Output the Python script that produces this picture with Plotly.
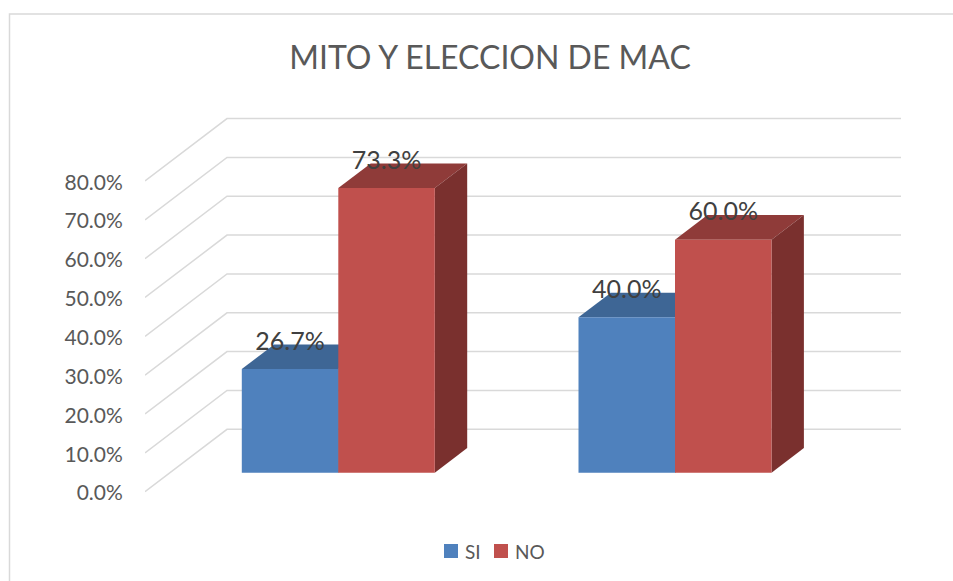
"""3D-style clustered bars: MITO Y ELECCION DE MAC"""

import plotly.graph_objects as go

# Data
GROUPS = [0, 1]
SERIES_NAMES = ["SI", "NO"]
SI_VALUES = [26.7, 40.0]
NO_VALUES = [73.3, 60.0]
TICK_VALUES = [0, 10, 20, 30, 40, 50, 60, 70, 80]

# Figure geometry in pixels
WIDTH, HEIGHT = 953, 581
PLOT_LEFT, PLOT_RIGHT = 145, 901
PLOT_TOP, PLOT_BOTTOM = 100, 500
GROUP_0_PX, GROUP_SPACING_PX = 338.3, 336.7
PX_PER_UNIT = 3.884
TICK_ZERO_PX = 493
AXIS_ZERO_PX = 491.7
BAR_ZERO_PX = 472.7
WALL_ZERO_PX = 429.3
WALL_LEFT_PX = 227

BAR_WIDTH = 96.5 / GROUP_SPACING_PX
DEPTH_X = 32.4 / GROUP_SPACING_PX
DEPTH_Y = 24.6 / PX_PER_UNIT
FRONT_LIFT = (TICK_ZERO_PX - AXIS_ZERO_PX) / PX_PER_UNIT
WALL_RISE = (TICK_ZERO_PX - WALL_ZERO_PX) / PX_PER_UNIT
LABEL_LIFT = 25.5 / PX_PER_UNIT

FONT = "Lato"
BLUE, BLUE_TOP, BLUE_SIDE = "#4F81BD", "#3E6695", "#305078"
RED, RED_TOP, RED_SIDE = "#C0504D", "#8F3B39", "#7A302E"
GRID = "#D9D9D9"
TEXT = "#595959"

# Legend swatches: left edge in px, text start in px
LEGEND_SWATCHES = [(444, 464), (494, 514)]
LEGEND_COLORS = [BLUE, RED]


def x_from_px(px):
    return (px - GROUP_0_PX) / GROUP_SPACING_PX


def y_range(zero_px):
    return [(zero_px - PLOT_BOTTOM) / PX_PER_UNIT, (zero_px - PLOT_TOP) / PX_PER_UNIT]


def paper_x(px):
    return (px - PLOT_LEFT) / (PLOT_RIGHT - PLOT_LEFT)


def paper_y(px):
    return (PLOT_BOTTOM - px) / (PLOT_BOTTOM - PLOT_TOP)


def add_depth(fig, left, value, top_color, side_color):
    right = left + BAR_WIDTH
    faces = [
        ([left, right, right + DEPTH_X, left + DEPTH_X, left],
         [value, value, value + DEPTH_Y, value + DEPTH_Y, value], top_color),
        ([right, right + DEPTH_X, right + DEPTH_X, right, right],
         [0, DEPTH_Y, value + DEPTH_Y, value, 0], side_color),
    ]
    for xs, ys, color in faces:
        fig.add_trace(go.Scatter(
            x=xs, y=ys, yaxis="y2", mode="lines", fill="toself",
            fillcolor=color, line={"width": 0}, showlegend=False, hoverinfo="skip",
        ))


fig = go.Figure()

# Wall gridlines: front edge, back corner, then along the wall
for tick in TICK_VALUES:
    fig.add_trace(go.Scatter(
        x=[x_from_px(PLOT_LEFT), x_from_px(WALL_LEFT_PX), x_from_px(PLOT_RIGHT)],
        y=[tick + FRONT_LIFT, tick + WALL_RISE, tick + WALL_RISE],
        mode="lines", line={"color": GRID, "width": 1.5},
        showlegend=False, hoverinfo="skip",
    ))

# Top and side faces sit behind the front faces
for group, si, no in zip(GROUPS, SI_VALUES, NO_VALUES):
    add_depth(fig, group - BAR_WIDTH, si, BLUE_TOP, BLUE_SIDE)
    add_depth(fig, group, no, RED_TOP, RED_SIDE)

fig.add_trace(go.Bar(x=GROUPS, y=SI_VALUES, yaxis="y3", name=SERIES_NAMES[0], marker={"color": BLUE, "line": {"width": 0}}))
fig.add_trace(go.Bar(x=GROUPS, y=NO_VALUES, yaxis="y3", name=SERIES_NAMES[1], marker={"color": RED, "line": {"width": 0}}))

# Data labels
for offset, values in ((-BAR_WIDTH / 2, SI_VALUES), (BAR_WIDTH / 2, NO_VALUES)):
    fig.add_trace(go.Scatter(
        x=[g + offset for g in GROUPS], y=[v + LABEL_LIFT for v in values],
        yaxis="y3", mode="text", text=[f"{v:.1f}%" for v in values],
        textposition="middle center", textfont={"family": FONT, "size": 25, "color": "#404040"},
        showlegend=False, hoverinfo="skip",
    ))

# Chart area border, open on the right and at the bottom like the reference
shapes = [{
    "type": "path", "xref": "paper", "yref": "paper",
    "path": f"M {paper_x(9.5)} {paper_y(HEIGHT)} L {paper_x(9.5)} {paper_y(14)} L {paper_x(WIDTH)} {paper_y(14)}",
    "line": {"color": GRID, "width": 1.5},
}]

# Legend is laid out by hand: plotly's swatch-to-text gap is too wide here
annotations = []
for name, color, (swatch_px, text_px) in zip(SERIES_NAMES, LEGEND_COLORS, LEGEND_SWATCHES):
    shapes.append({
        "type": "rect", "xref": "paper", "yref": "paper",
        "x0": paper_x(swatch_px), "x1": paper_x(swatch_px + 14),
        "y0": paper_y(544), "y1": paper_y(558),
        "fillcolor": color, "line": {"width": 0},
    })
    annotations.append({
        "text": name, "xref": "paper", "yref": "paper", "showarrow": False,
        "x": paper_x(text_px), "xanchor": "left", "xshift": -1,
        "y": paper_y(551), "yanchor": "middle",
        "font": {"family": FONT, "size": 19, "color": TEXT},
    })

fig.update_layout(
    width=WIDTH, height=HEIGHT,
    margin={"l": PLOT_LEFT, "r": WIDTH - PLOT_RIGHT, "t": PLOT_TOP, "b": HEIGHT - PLOT_BOTTOM, "pad": 0, "autoexpand": False},
    paper_bgcolor="white", plot_bgcolor="rgba(0,0,0,0)",
    barmode="group", bargap=1 - 2 * BAR_WIDTH, bargroupgap=0, showlegend=False,
    title={
        "text": "MITO Y ELECCION DE MAC", "font": {"family": FONT, "size": 32, "color": TEXT},
        "x": 490 / WIDTH, "xanchor": "center", "y": 1 - 58 / HEIGHT, "yanchor": "middle",
    },
    xaxis={"range": [x_from_px(PLOT_LEFT), x_from_px(PLOT_RIGHT)], "visible": False},
    yaxis={
        "range": y_range(TICK_ZERO_PX), "tickvals": TICK_VALUES, "ticktext": [f"{t:.1f}%" for t in TICK_VALUES],
        "showgrid": False, "zeroline": False, "showline": False,
        "ticks": "outside", "ticklen": 17, "tickcolor": "rgba(0,0,0,0)",
        "tickfont": {"family": FONT, "size": 21, "color": TEXT},
    },
    yaxis2={"range": y_range(BAR_ZERO_PX), "overlaying": "y", "visible": False},
    yaxis3={"range": y_range(BAR_ZERO_PX), "overlaying": "y", "visible": False},
    shapes=shapes,
    annotations=annotations,
)

fig.write_html("out.html", post_script="document.body.style.margin = '0';", config={"displayModeBar": False})
